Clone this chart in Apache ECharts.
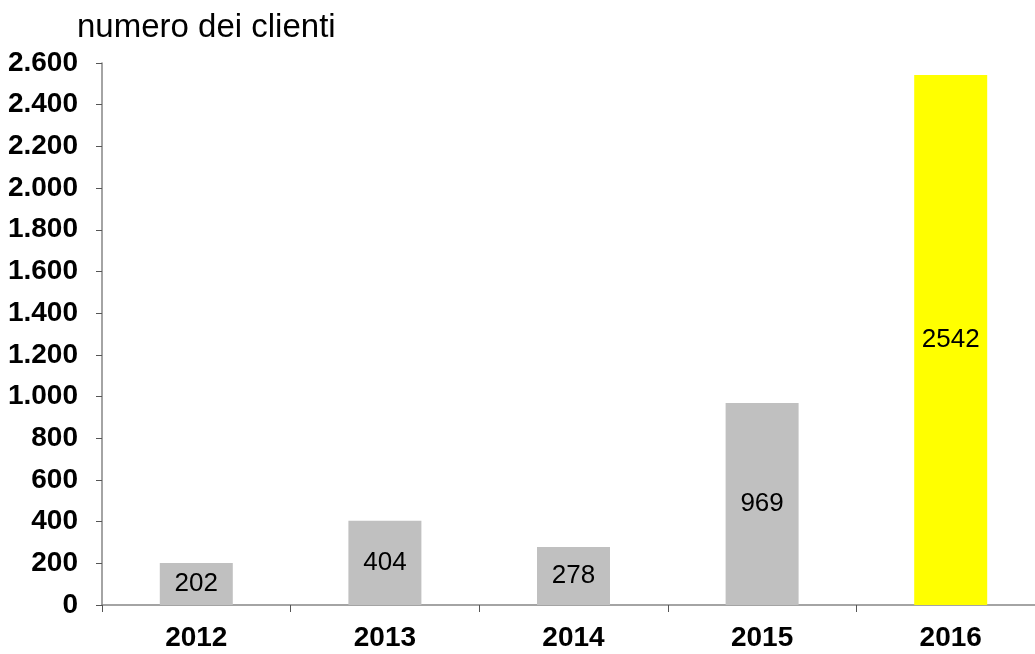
<!DOCTYPE html>
<html>
<head>
<meta charset="utf-8">
<script src="https://cdn.jsdelivr.net/npm/echarts@6/dist/echarts.min.js"></script>
<style>
  html, body { margin: 0; padding: 0; background: #fff; }
  #chart { width: 1035px; height: 654px; }
</style>
</head>
<body>
<div id="chart"></div>
<script>
// dati
const anni = ["2012", "2013", "2014", "2015", "2016"];
const clienti = [202, 404, 278, 969, 2542];
const titolo = "numero dei clienti";

const grigio = "#c0c0c0";
const giallo = "#ffff00";

// separatore migliaia con il punto
function migliaia(v) {
  return String(v).replace(/\B(?=(\d{3})+(?!\d))/g, ".");
}

const chart = echarts.init(document.getElementById("chart"));
chart.setOption({
  animation: false,
  title: {
    text: titolo,
    left: 72,
    top: 6,
    textStyle: {
      fontFamily: "Liberation Sans, Arial",
      fontSize: 33,
      fontWeight: "normal",
      color: "#000",
    },
  },
  grid: {
    left: 102,
    top: 63,
    width: 943,
    height: 542,
    outerBoundsMode: "none",
  },
  xAxis: {
    type: "category",
    data: anni,
    axisLine: { lineStyle: { color: "#868686", width: 1.5 } },
    axisTick: { show: true, length: 7, lineStyle: { color: "#555" } },
    axisLabel: {
      margin: 19,
      fontFamily: "Liberation Sans, Arial",
      fontSize: 28,
      fontWeight: "bold",
      color: "#000",
    },
  },
  yAxis: {
    type: "value",
    min: 0,
    max: 2600,
    interval: 200,
    splitLine: { show: false },
    axisLine: { show: true, lineStyle: { color: "#868686", width: 1.5 } },
    axisTick: { show: true, length: 6, lineStyle: { color: "#555" } },
    axisLabel: {
      margin: 24,
      formatter: migliaia,
      fontFamily: "Liberation Sans, Arial",
      fontSize: 28,
      fontWeight: "bold",
      color: "#000",
    },
  },
  series: [
    {
      type: "bar",
      data: clienti.map((v, i) => ({
        value: v,
        itemStyle: { color: i === clienti.length - 1 ? giallo : grigio },
      })),
      barWidth: 73,
      label: {
        show: true,
        position: "inside",
        fontFamily: "Liberation Sans, Arial",
        fontSize: 26,
        color: "#000",
      },
    },
  ],
});
</script>
</body>
</html>
